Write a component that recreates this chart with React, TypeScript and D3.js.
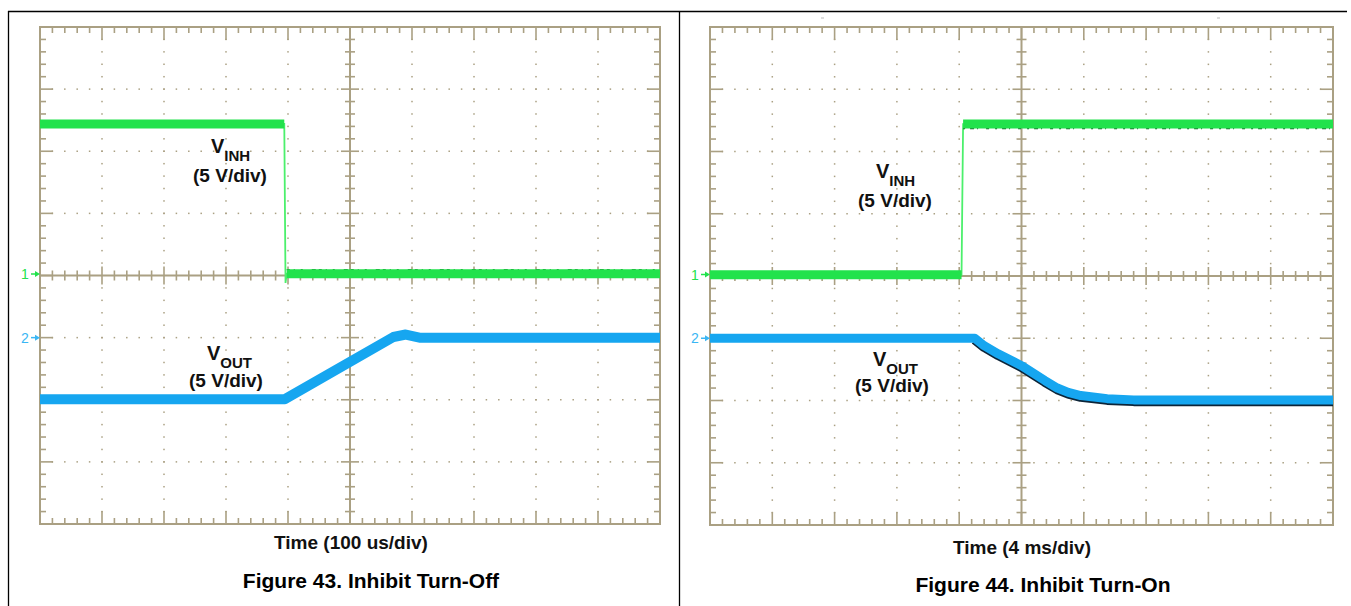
import React from 'react';
import * as d3 from 'd3';

// ---------- data ----------
// Figure 43: Inhibit Turn-Off, 100 us/div, 5 V/div
const fig43VinhTimeUs = [0, 394, 396, 398, 1000];
const fig43VinhVolts = [12.2, 12.2, -0.6, 0.15, 0.15];
const fig43VoutTimeUs = [0, 395, 570, 590, 612, 1000];
const fig43VoutVolts = [-4.95, -4.95, 0.05, 0.25, 0, 0];
// Figure 44: Inhibit Turn-On, 4 ms/div, 5 V/div
const fig44VinhTimeMs = [0, 16.15, 16.25, 40];
const fig44VinhVolts = [0.1, 0.1, 12.2, 12.2];
const fig44VoutTimeMs = [0, 17.0, 17.6, 18.5, 20.0, 21.5, 22.3, 23.0, 23.8, 25.5, 27.2, 40];
const fig44VoutVolts = [0, 0, -0.6, -1.25, -2.2, -3.4, -4.0, -4.35, -4.6, -4.85, -4.95, -4.95];

const channelMarkers = ['1', '2'];
const fig43Texts = ['Time (100 us/div)', 'Figure 43. Inhibit Turn-Off'];
const fig44Texts = ['Time (4 ms/div)', 'Figure 44. Inhibit Turn-On'];

// ---------- style ----------
const AX = '#aaa083';
const GREEN = '#22e24c';
const GREEN_THIN = '#4cf06c';
const BLUE = '#16a6f0';
const FONT = '"Liberation Sans", Arial, Helvetica, sans-serif';
const VOLTS_PER_DIV = 5;
const CH1_OFFSET = 0;
const CH2_OFFSET = -1;

type Trace = {
  t: number[]; v: number[]; offset: number; color: string; thin: string; width: number;
  edge?: { from: number; dy: number; color: string; dash?: string; w: number };
};

function Scope(props: {
  x0: number; y0: number; w: number; h: number; tPerDiv: number;
  traces: Trace[];
  inhLabel: [number, number, number];
  outLabel: [number, number, number];
  texts: string[];
  timeY: number; timeX: number;
  figY: number; figX: number;
}) {
  const { x0, y0, w, h, tPerDiv, traces } = props;
  const xs = d3.scaleLinear().domain([0, 10]).range([x0, x0 + w]);
  const ys = d3.scaleLinear().domain([-4, 4]).range([y0 + h, y0]);
  const minorX = d3.range(1, 50).map((i) => i / 5);
  const minorY = d3.range(1, 40).map((i) => -4 + i / 5);
  const isMajor = (v: number) => Math.abs(v - Math.round(v)) < 1e-6;

  const dots: JSX.Element[] = [];
  [1, 2, 3, 4, 6, 7, 8, 9].forEach((mx) => {
    minorY.forEach((my, j) => {
      if (Math.abs(my) < 1e-6) return;
      dots.push(<rect key={`v${mx}-${j}`} x={xs(mx) - 0.75} y={ys(my) - 0.75} width={1.5} height={1.5} fill={AX} />);
    });
  });
  [-3, -2, -1, 1, 2, 3].forEach((my) => {
    minorX.forEach((mx, j) => {
      if (Math.abs(mx - 5) < 1e-6) return;
      dots.push(<rect key={`h${my}-${j}`} x={xs(mx) - 0.75} y={ys(my) - 0.75} width={1.5} height={1.5} fill={AX} />);
    });
  });

  const ticks: JSX.Element[] = [];
  minorX.forEach((mx, j) => {
    const L = isMajor(mx) ? 13 : 6;
    const c = isMajor(mx) ? 9 : 5;
    ticks.push(<line key={`tt${j}`} x1={xs(mx)} x2={xs(mx)} y1={y0} y2={y0 + L} />);
    ticks.push(<line key={`tb${j}`} x1={xs(mx)} x2={xs(mx)} y1={y0 + h} y2={y0 + h - L} />);
    ticks.push(<line key={`tc${j}`} x1={xs(mx)} x2={xs(mx)} y1={ys(0) - c} y2={ys(0) + c} />);
  });
  minorY.forEach((my, j) => {
    const L = isMajor(my) ? 13 : 6;
    const c = isMajor(my) ? 9 : 5;
    ticks.push(<line key={`tl${j}`} y1={ys(my)} y2={ys(my)} x1={x0} x2={x0 + L} />);
    ticks.push(<line key={`tr${j}`} y1={ys(my)} y2={ys(my)} x1={x0 + w} x2={x0 + w - L} />);
    ticks.push(<line key={`tcv${j}`} y1={ys(my)} y2={ys(my)} x1={xs(5) - c} x2={xs(5) + c} />);
  });

  const traceEls: JSX.Element[] = [];
  traces.forEach((tr, ti) => {
    const pts: [number, number][] = tr.t.map((t, i) => [xs(t / tPerDiv), ys(tr.v[i] / VOLTS_PER_DIV + tr.offset)]);
    const line = d3.line();
    traceEls.push(<path key={`thin${ti}`} d={line(pts) || ''} fill="none" stroke={tr.thin} strokeWidth={1.8} />);
    let run: [number, number][] = [];
    const runs: [number, number][][] = [];
    for (let i = 0; i < pts.length - 1; i++) {
      const a = pts[i], b = pts[i + 1];
      const shallow = Math.abs(b[1] - a[1]) < Math.abs(b[0] - a[0]);
      if (shallow) {
        if (run.length === 0) run.push(a);
        run.push(b);
      } else if (run.length) {
        runs.push(run);
        run = [];
      }
    }
    if (run.length) runs.push(run);
    if (tr.edge) {
      const e = tr.edge;
      const ep = pts.filter((_, i) => tr.t[i] >= e.from).map(([x, y]) => [x, y + e.dy] as [number, number]);
      traceEls.push(
        <path key={`edge${ti}`} d={line(ep) || ''} fill="none" stroke={e.color} strokeWidth={e.w}
          strokeDasharray={e.dash} strokeLinejoin="round" />
      );
    }
    runs.forEach((r, ri) => {
      traceEls.push(
        <path key={`thick${ti}-${ri}`} d={line(r) || ''} fill="none" stroke={tr.color} strokeWidth={tr.width} strokeLinejoin="round" />
      );
    });
  });

  const markerY = [ys(CH1_OFFSET) - 1.5, ys(CH2_OFFSET)];
  const markerColor = [GREEN, '#3ab6f4'];

  const lab = (x: number, yb: number, ybd: number, sub: string) => (
    <g fill="#111" fontFamily={FONT} fontWeight="bold">
      <text x={x} y={yb} fontSize={20}>
        V<tspan fontSize={15} dy={7.5}>{sub}</tspan>
      </text>
      <text x={x + 19} y={ybd} fontSize={19} textAnchor="middle">(5 V/div)</text>
    </g>
  );

  return (
    <g>
      {dots}
      <g stroke={AX} strokeWidth={1.6}>{ticks}</g>
      <rect x={x0} y={y0} width={w} height={h} fill="none" stroke={AX} strokeWidth={2} />
      <line x1={xs(5)} x2={xs(5)} y1={y0} y2={y0 + h} stroke={AX} strokeWidth={2} />
      <line x1={x0} x2={x0 + w} y1={ys(0)} y2={ys(0)} stroke={AX} strokeWidth={2} />
      {traceEls}
      {channelMarkers.map((m, i) => (
        <g key={m}>
          <text x={x0 - 19} y={markerY[i] + 5} fontSize={14} fontFamily={FONT} fill={markerColor[i]}>{m}</text>
          <line x1={x0 - 9} x2={x0 - 3} y1={markerY[i]} y2={markerY[i]} stroke={markerColor[i]} strokeWidth={1.5} />
          <path d={`M${x0 - 5},${markerY[i] - 3} L${x0},${markerY[i]} L${x0 - 5},${markerY[i] + 3} Z`} fill={markerColor[i]} />
        </g>
      ))}
      {lab(props.inhLabel[0], props.inhLabel[1], props.inhLabel[2], 'INH')}
      {lab(props.outLabel[0], props.outLabel[1], props.outLabel[2], 'OUT')}
      <text x={props.timeX} y={props.timeY} fontSize={19} fontWeight="bold" fontFamily={FONT} textAnchor="middle" fill="#111">{props.texts[0]}</text>
      <text x={props.figX} y={props.figY} fontSize={21} fontWeight="bold" fontFamily={FONT} textAnchor="middle" fill="#000">{props.texts[1]}</text>
    </g>
  );
}

export default function App() {
  return (
    <svg width={1351} height={606} style={{ position: 'absolute', left: 0, top: 0, background: '#fff' }}>
      <rect x={0} y={0} width={1351} height={606} fill="#fff" />
      <line x1={8} x2={1347} y1={11.5} y2={11.5} stroke="#000" strokeWidth={1.3} />
      <line x1={8.5} x2={8.5} y1={11} y2={606} stroke="#000" strokeWidth={1.3} />
      <line x1={679.5} x2={679.5} y1={11} y2={606} stroke="#000" strokeWidth={1.3} />
      <line x1={821} x2={824} y1={18} y2={18} stroke="#bbb" strokeWidth={1} />
      <line x1={1217} x2={1220} y1={18} y2={18} stroke="#bbb" strokeWidth={1} />
      <Scope
        x0={40} y0={27} w={620} h={497} tPerDiv={100}
        traces={[
          { t: fig43VinhTimeUs, v: fig43VinhVolts, offset: CH1_OFFSET, color: GREEN, thin: GREEN_THIN, width: 9,
            edge: { from: 398, dy: -4, color: '#1d5a2a', dash: '3 4 1 6 2 9 4 3', w: 1.3 } },
          { t: fig43VoutTimeUs, v: fig43VoutVolts, offset: CH2_OFFSET, color: BLUE, thin: BLUE, width: 10 },
        ]}
        inhLabel={[211, 153, 182]}
        outLabel={[207, 360, 387]}
        texts={fig43Texts}
        timeX={351} timeY={549}
        figX={371} figY={588}
      />
      <Scope
        x0={710} y0={27} w={623} h={498} tPerDiv={4}
        traces={[
          { t: fig44VinhTimeMs, v: fig44VinhVolts, offset: CH1_OFFSET, color: GREEN, thin: GREEN_THIN, width: 9,
            edge: { from: 16.25, dy: 4.5, color: '#1d5a2a', dash: '2 5 4 3 1 8 3 6', w: 1.3 } },
          { t: fig44VoutTimeMs, v: fig44VoutVolts, offset: CH2_OFFSET, color: BLUE, thin: BLUE, width: 9,
            edge: { from: 17.0, dy: 1.5, color: '#0c2438', w: 9.5 } },
        ]}
        inhLabel={[876, 178, 207]}
        outLabel={[873, 366, 392]}
        texts={fig44Texts}
        timeX={1022} timeY={554}
        figX={1043} figY={592}
      />
    </svg>
  );
}
